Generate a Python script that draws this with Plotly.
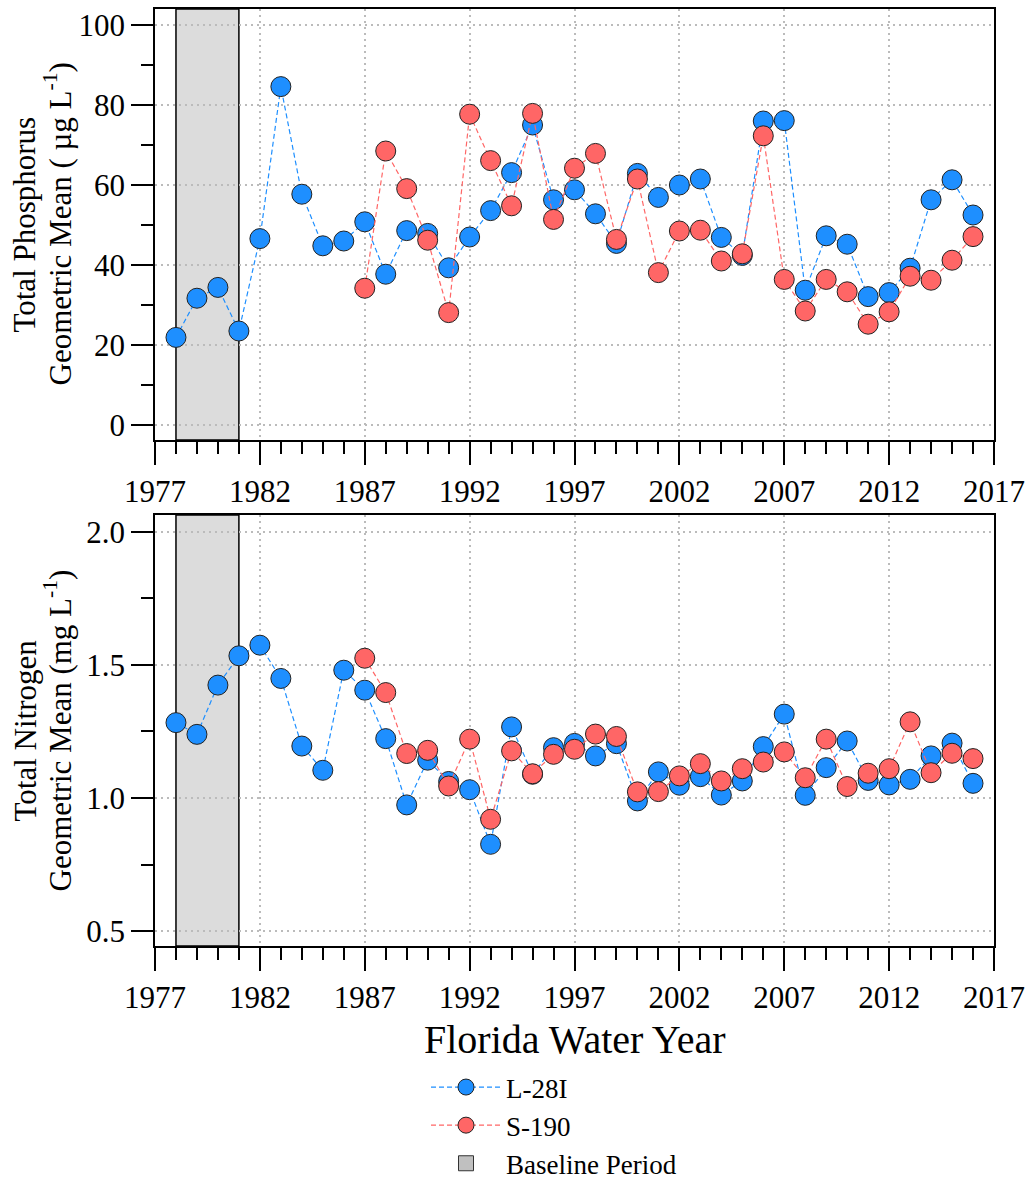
import plotly.graph_objects as go

years = list(range(1978, 2017))

tp_l28i = [21.9, 31.7, 34.4, 23.5, 46.6, 84.6, 57.7, 44.8, 46.0, 50.8,
           37.7, 48.6, 47.9, 39.3, 47.0, 53.6, 63.1, 75.0, 56.3, 58.8,
           52.8, 45.4, 62.9, 56.9, 60.0, 61.5, 46.9, 42.4, 76.0, 76.1,
           33.7, 47.3, 45.2, 32.1, 33.1, 39.2, 56.3, 61.3, 52.5]
tp_s190 = [None] * 9 + [34.2, 68.5, 59.1, 46.2, 28.1, 77.7, 66.1, 54.8, 77.9, 51.4,
                        64.2, 67.9, 46.4, 61.5, 38.1, 48.5, 48.7, 41.0, 42.8, 72.3,
                        36.4, 28.5, 36.4, 33.3, 25.2, 28.3, 37.2, 36.2, 41.2, 47.1]

tn_l28i = [1.283, 1.239, 1.424, 1.534, 1.574, 1.449, 1.195, 1.104, 1.480, 1.405,
           1.223, 0.974, 1.142, 1.062, 1.031, 0.826, 1.267, 1.089, 1.189, 1.205,
           1.158, 1.204, 0.989, 1.098, 1.048, 1.080, 1.011, 1.064, 1.193, 1.315,
           1.010, 1.114, 1.214, 1.066, 1.049, 1.070, 1.158, 1.206, 1.055]
tn_s190 = [None] * 9 + [1.525, 1.396, 1.167, 1.179, 1.045, 1.221, 0.920, 1.177, 1.091, 1.164,
                        1.183, 1.240, 1.231, 1.023, 1.024, 1.083, 1.129, 1.064, 1.110, 1.135,
                        1.173, 1.076, 1.221, 1.043, 1.093, 1.110, 1.286, 1.095, 1.168, 1.148]

baseline_start, baseline_end = 1978, 1981
series_names = ["L-28I", "S-190"]
series_colors = ["#1E8FFF", "#FF6666"]

FONT = "Liberation Serif"
fig = go.Figure()

panels = [("x", "y", tp_l28i, tp_s190), ("x2", "y2", tn_l28i, tn_s190)]
for pi, (xa, ya, v1, v2) in enumerate(panels):
    for si, vals in enumerate([v1, v2]):
        fig.add_trace(go.Scatter(
            x=years, y=vals, xaxis=xa, yaxis=ya, mode="lines+markers",
            name=series_names[si], showlegend=(pi == 0), legendgroup=series_names[si],
            connectgaps=False,
            line=dict(color=series_colors[si], width=1.2, dash="5px,3px"),
            marker=dict(size=20, color=series_colors[si], line=dict(color="#222222", width=1)),
        ))

fig.add_trace(go.Scatter(
    x=[None], y=[None], mode="markers", name="Baseline Period",
    marker=dict(symbol="square", size=15, color="#C0C0C0", line=dict(color="#333333", width=1)),
))

for xr, yr in [("x", "y"), ("x2", "y2")]:
    fig.add_shape(type="rect", xref=xr, yref=yr + " domain", x0=baseline_start, x1=baseline_end,
                  y0=0, y1=1, fillcolor="#DCDCDC", line=dict(color="black", width=1.5), layer="below")

xaxis_common = dict(
    range=[1977, 2017], tick0=1977, dtick=5, ticks="outside", ticklen=23, tickwidth=1.5,
    tickcolor="black", showline=True, linecolor="black", linewidth=1.5, mirror=True,
    showgrid=True, gridcolor="#BBBBBB", gridwidth=1.5, griddash="2px,4px", zeroline=False,
    tickfont=dict(family=FONT, size=31, color="black"),
    minor=dict(dtick=1, tick0=1977, ticks="outside", ticklen=12, tickwidth=1.5,
               tickcolor="black", showgrid=False),
)
yaxis_common = dict(
    ticks="outside", ticklen=22, tickwidth=1.5, tickcolor="black",
    showline=True, linecolor="black", linewidth=1.5, mirror=True,
    showgrid=True, gridcolor="#BBBBBB", gridwidth=1.5, griddash="2px,4px", zeroline=False,
    tickfont=dict(family=FONT, size=31, color="black"),
)

title_font = dict(family=FONT, size=31, color="black")
annotations = [
    dict(text="Florida Water Year", xref="paper", yref="paper", x=0.5, y=-0.1003,
         xanchor="center", yanchor="middle", showarrow=False,
         font=dict(family=FONT, size=40, color="black")),
]
ytitles = [("y domain", "Total Phosphorus", "Geometric Mean ( \u00b5g L<sup>-1</sup>)"),
           ("y2 domain", "Total Nitrogen", "Geometric Mean (mg L<sup>-1</sup>)")]
for yref, line1, line2 in ytitles:
    annotations.append(dict(text=line1, xref="paper", yref=yref, x=0, y=0.5,
                            xanchor="center", yanchor="middle", xshift=-130, textangle=-90,
                            showarrow=False, font=title_font))
    annotations.append(dict(text=line2, xref="paper", yref=yref, x=0, y=0.5,
                            xanchor="center", yanchor="middle", xshift=-97, textangle=-90,
                            showarrow=False, font=title_font))

fig.update_layout(
    width=1034, height=1182,
    margin=dict(l=155, r=40, t=9, b=236, autoexpand=False),
    paper_bgcolor="white", plot_bgcolor="white",
    font=dict(family=FONT, color="black"),
    xaxis=dict(domain=[0, 1], anchor="y", **xaxis_common),
    xaxis2=dict(domain=[0, 1], anchor="y2", **xaxis_common),
    yaxis=dict(domain=[0.54, 1], anchor="x", range=[-3.75, 104], tick0=0, dtick=20,
               minor=dict(dtick=10, tick0=0, ticks="outside", ticklen=12, tickwidth=1.5,
                          tickcolor="black", showgrid=False),
               **yaxis_common),
    yaxis2=dict(domain=[0, 0.46], anchor="x2", range=[0.444, 2.063], tick0=0.5, dtick=0.5,
                tickformat=".1f",
                minor=dict(dtick=0.25, tick0=0.5, ticks="outside", ticklen=12, tickwidth=1.5,
                           tickcolor="black", showgrid=False),
                **yaxis_common),
    showlegend=True,
    legend=dict(x=426 / 1034, y=(1182 - 1063) / 1182, xref="container", yref="container",
                xanchor="left", yanchor="top", orientation="v",
                font=dict(family=FONT, size=27, color="black"), bgcolor="rgba(0,0,0,0)",
                itemsizing="trace", itemwidth=70, tracegroupgap=0),
    annotations=annotations,
)

fig.write_html("out.html")
